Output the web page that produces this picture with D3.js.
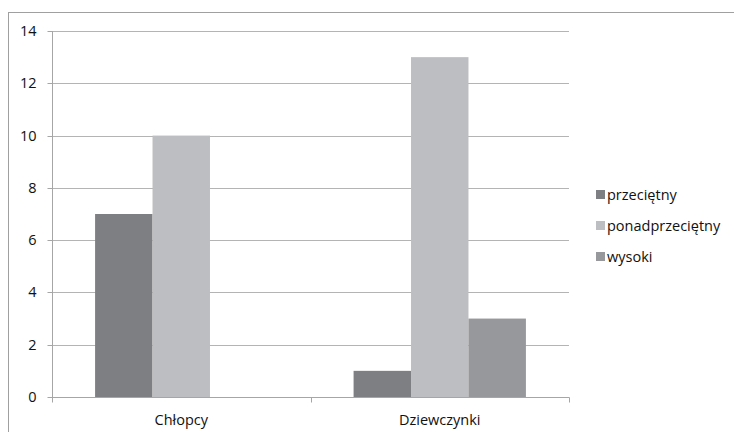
<!DOCTYPE html>
<html><head><meta charset="utf-8">
<script src="https://cdn.jsdelivr.net/npm/d3@7"></script>
<style>body{margin:0;background:#fff}text{font-family:"Open Sans",sans-serif}</style>
</head><body>
<svg id="c" width="734" height="432"></svg>
<script>
const categories = ["Chłopcy", "Dziewczynki"];
const seriesNames = ["przeciętny", "ponadprzeciętny", "wysoki"];
const przecietny = [7, 1];
const ponadprzecietny = [10, 13];
const wysoki = [0, 3];
const yTicks = [0, 2, 4, 6, 8, 10, 12, 14];
const colors = ["#7e7f82", "#bdbec1", "#97989b"];

const FONT = "'Open Sans',sans-serif";
const FS = 14.5;
const TXT = "#111";
const seriesValues = [przecietny, ponadprzecietny, wysoki];
const svg = d3.select("#c");
const L = 52, R = 569, T = 31, B = 397;

svg.append("rect").attr("x", 8.5).attr("y", 12.5).attr("width", 740).attr("height", 440)
  .attr("fill", "none").attr("stroke", "#a0a0a0");

const y = d3.scaleLinear().domain([0, 14]).range([B, T]);
const x0 = d3.scaleBand().domain(categories).range([L, R]).paddingInner(0).paddingOuter(0);
const bw = x0.bandwidth() / 4.5;

// gridlines
svg.append("g").selectAll("line").data(yTicks.filter(d => d > 0)).join("line")
  .attr("x1", L).attr("x2", R)
  .attr("y1", d => Math.round(y(d)) + 0.5).attr("y2", d => Math.round(y(d)) + 0.5)
  .attr("stroke", "#b4b4b4").attr("stroke-width", 1);

// bars
categories.forEach((c, ci) => {
  seriesValues.forEach((vals, si) => {
    const v = vals[ci];
    if (v <= 0) return;
    const xs = x0(c) + bw * 0.75 + si * bw;
    svg.append("rect").attr("x", xs).attr("width", bw)
      .attr("y", y(v)).attr("height", y(0) - y(v)).attr("fill", colors[si]);
  });
});

// y axis
const ya = svg.append("g").attr("transform", `translate(${L + 0.5},0)`)
  .call(d3.axisLeft(y).tickValues(yTicks).tickSize(5).tickPadding(11).tickFormat(d3.format("d")));
ya.select(".domain").attr("stroke", "#a6a6a6").attr("d", `M0,${T}V${B}`);
ya.selectAll(".tick line").attr("stroke", "#a6a6a6");
ya.selectAll(".tick").attr("transform", d => `translate(0,${Math.round(y(d)) + 0.5})`);
ya.selectAll("text").attr("font-size", FS).attr("fill", TXT).attr("font-family", FONT);

// x axis
const xa = svg.append("g").attr("transform", `translate(0,${B + 0.5})`);
xa.append("line").attr("x1", L).attr("x2", R + 0.5).attr("stroke", "#a6a6a6");
const seps = [L, x0(categories[1]), R];
xa.selectAll(".sep").data(seps).join("line").attr("class", "sep")
  .attr("x1", d => Math.round(d) + 0.5).attr("x2", d => Math.round(d) + 0.5)
  .attr("y1", 0).attr("y2", 5).attr("stroke", "#a6a6a6");
xa.selectAll(".cl").data(categories).join("text").attr("class", "cl")
  .attr("x", d => x0(d) + x0.bandwidth() / 2).attr("y", 27)
  .attr("text-anchor", "middle").attr("font-size", FS).attr("fill", TXT).text(d => d);

// legend
const lg = svg.append("g");
seriesNames.forEach((n, i) => {
  const cy = 194.5 + i * 31;
  lg.append("rect").attr("x", 596).attr("y", cy - 4.5).attr("width", 9).attr("height", 9).attr("fill", colors[i]);
  lg.append("text").attr("x", 607).attr("y", cy + 5.5).attr("font-size", FS).attr("fill", TXT).text(n);
});
</script>
</body></html>
